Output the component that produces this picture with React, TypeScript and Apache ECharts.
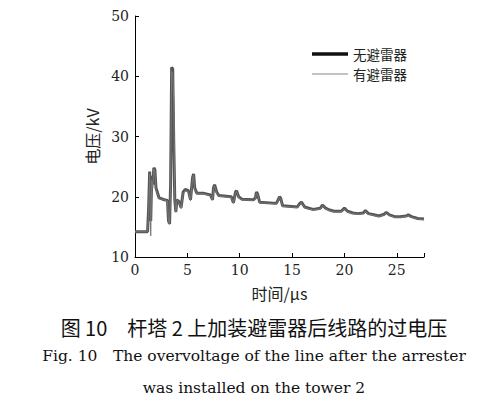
import React, { useEffect, useRef } from "react";
import * as echarts from "echarts";

// time (µs) and voltage (kV)
const times = [
  0, 1.2, 1.3, 1.4, 1.5, 1.6, 1.7, 1.8, 1.9, 2.0, 2.3, 2.8, 3.1, 3.2, 3.3, 3.4, 3.5, 3.6, 3.7, 3.8,
  3.9, 4.0, 4.2, 4.4, 4.6, 4.8, 5.1, 5.3, 5.5, 5.6, 5.7, 5.9, 6.5, 7.2, 7.4, 7.5, 7.6, 7.8, 8.0,
  9.2, 9.4, 9.6, 9.7, 9.9, 10.2, 11.3, 11.5, 11.6, 11.7, 11.9, 13.5, 13.7, 13.8, 13.9, 14.1, 15.5,
  15.7, 15.9, 16.2, 16.6, 17.0, 17.7, 17.9, 18.2, 18.6, 19.0, 19.7, 20.0, 20.3, 20.8, 21.3, 21.8,
  22.0, 22.3, 22.8, 23.3, 23.8, 24.0, 24.3, 24.8, 25.3, 25.9, 26.1, 26.4, 27.0, 27.6,
];

const noArrester = [
  14.2, 14.2, 18, 24.2, 16, 23.5, 22, 24.8, 24.5, 21.5, 19.8, 19.5, 19.4, 16, 15.5, 22, 41.5, 41.2, 29, 19.5,
  17.5, 19.5, 19.2, 18.2, 20.8, 21.2, 21, 19.5, 23.2, 23.8, 21.5, 20.6, 20.6, 20.3, 19.5, 21.5, 22, 20.8, 20.2,
  20, 19, 20.8, 21, 20, 19.6, 19.5, 19.8, 20.8, 20.5, 19.1, 18.9, 19.6, 20, 19.8, 18.5, 18.3,
  18.8, 19.1, 18.3, 18.1, 17.9, 18.1, 18.6, 18.1, 17.8, 17.6, 17.6, 18.1, 17.6, 17.3, 17.2, 17.3,
  17.7, 17.2, 17.0, 16.8, 17.1, 17.4, 17.0, 16.7, 16.7, 16.8, 17.0, 16.7, 16.4, 16.3,
];

const withArrester = [
  14.2, 14.2, 17, 23.8, 13.5, 22.8, 21.5, 24.6, 24.2, 21.2, 19.7, 19.5, 19.3, 15.8, 15.4, 21.5, 40.8, 40.5, 36, 19.2,
  17.4, 19.4, 19.1, 18.0, 20.6, 21.0, 20.9, 19.3, 23.0, 23.6, 21.3, 20.5, 20.5, 20.2, 19.4, 21.3, 21.8, 20.6, 20.1,
  19.9, 18.9, 20.6, 20.9, 19.9, 19.5, 19.4, 19.7, 20.6, 20.4, 19.0, 18.8, 19.5, 19.9, 19.7, 18.4, 18.2,
  18.7, 19.0, 18.2, 18.0, 17.8, 18.0, 18.5, 18.0, 17.7, 17.5, 17.5, 18.0, 17.5, 17.2, 17.1, 17.2,
  17.6, 17.1, 16.9, 16.7, 17.0, 17.3, 16.9, 16.6, 16.6, 16.7, 16.9, 16.6, 16.3, 16.2,
];

const seriesNames = ["无避雷器", "有避雷器"];
const captionCn = "图 10　杆塔 2 上加装避雷器后线路的过电压";
const captionEn1 = "Fig. 10　The overvoltage of the line after the arrester";
const captionEn2 = "was installed on the tower 2";

const serif = "'DejaVu Serif', 'Noto Sans CJK SC', serif";
const cjk = "'Noto Sans CJK SC', 'DejaVu Serif', sans-serif";

const App = () => {
  const chartRef = useRef<HTMLDivElement>(null);

  useEffect(() => {
    if (!chartRef.current) return;
    const chart = echarts.init(chartRef.current, undefined, { renderer: "svg" });

    const options = {
      animation: false,
      backgroundColor: "#ffffff",
      grid: { left: 135, top: 16, right: 70, bottom: 160 },
      legend: {
        orient: "vertical",
        left: 307,
        top: 42,
        itemWidth: 36,
        itemHeight: 14,
        itemGap: 6,
        textStyle: { fontFamily: cjk, fontSize: 13.5, lineHeight: 14, color: "#222" },
        data: [
          {
            name: seriesNames[0],
            icon: "path://M0 0h36v3.5H0z",
            itemStyle: { color: "#111" },
          },
          {
            name: seriesNames[1],
            icon: "path://M0 0h36v1H0z",
            itemStyle: { color: "#888" },
          },
        ],
      },
      xAxis: {
        type: "value",
        min: 0,
        max: 27.6,
        interval: 5,
        name: "时间/μs",
        nameLocation: "middle",
        nameGap: 28,
        nameTextStyle: { fontFamily: cjk, fontSize: 16, color: "#222" },
        axisLine: { lineStyle: { color: "#000", width: 1 } },
        axisTick: { inside: true, length: 4, lineStyle: { color: "#000" } },
        axisLabel: {
          fontFamily: serif,
          fontSize: 14,
          color: "#222",
          margin: 6,
          formatter: (v: number) => (v % 5 === 0 ? String(v) : ""),
        },
        splitLine: { show: false },
      },
      yAxis: {
        type: "value",
        min: 10,
        max: 50,
        interval: 10,
        name: "电压/kV",
        nameLocation: "middle",
        nameGap: 35,
        nameTextStyle: { fontFamily: cjk, fontSize: 16, color: "#222" },
        axisLine: { show: true, lineStyle: { color: "#000", width: 1 } },
        axisTick: { show: true, inside: true, length: 4, lineStyle: { color: "#000" } },
        axisLabel: { fontFamily: serif, fontSize: 14, color: "#222", margin: 6 },
        splitLine: { show: false },
      },
      series: [
        {
          name: seriesNames[0],
          type: "line",
          showSymbol: false,
          symbol: "none",
          data: times.map((t, i) => [t, noArrester[i]]),
          lineStyle: { color: "#555", width: 3 },
          itemStyle: { color: "#111" },
        },
        {
          name: seriesNames[1],
          type: "line",
          showSymbol: false,
          symbol: "none",
          data: times.map((t, i) => [t, withArrester[i]]),
          lineStyle: { color: "#777", width: 1 },
          itemStyle: { color: "#888" },
        },
      ],
      graphic: [
        {
          type: "text",
          x: 254,
          y: 327,
          style: {
            text: captionCn,
            fontFamily: cjk,
            fontSize: 20,
            fill: "#111",
            textAlign: "center",
            textVerticalAlign: "middle",
          },
        },
        {
          type: "text",
          x: 254,
          y: 356,
          style: {
            text: captionEn1,
            fontFamily: serif,
            fontSize: 15.5,
            fill: "#111",
            textAlign: "center",
            textVerticalAlign: "middle",
          },
        },
        {
          type: "text",
          x: 254,
          y: 388,
          style: {
            text: captionEn2,
            fontFamily: serif,
            fontSize: 15.5,
            fill: "#111",
            textAlign: "center",
            textVerticalAlign: "middle",
          },
        },
      ],
    };

    chart.setOption(options);

    return () => {
      chart.dispose();
    };
  }, []);

  return <div ref={chartRef} style={{ width: "494px", height: "417px", margin: "-8px" }} />;
};

export default App;
